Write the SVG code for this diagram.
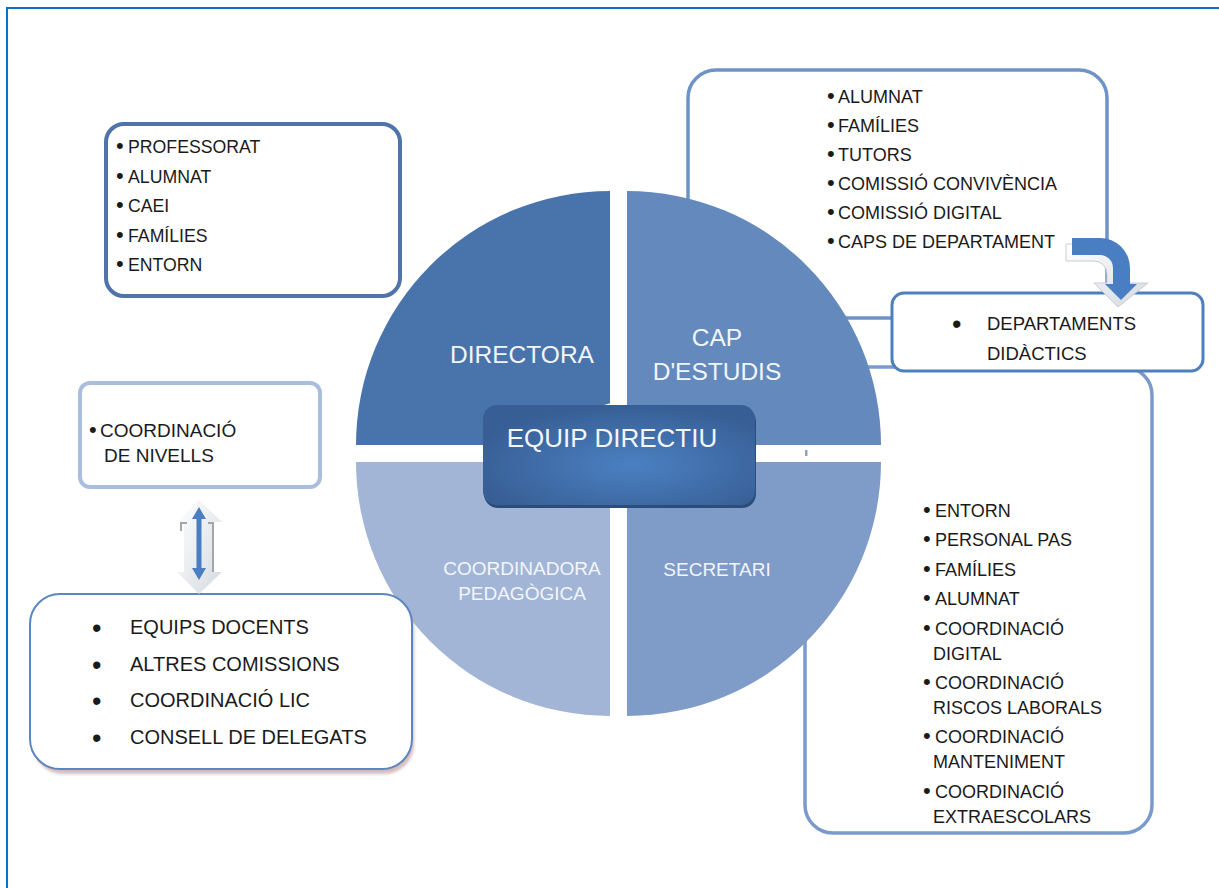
<svg xmlns="http://www.w3.org/2000/svg" width="1219" height="888" viewBox="0 0 1219 888">
  <defs>
    <style>
      text { font-family: "Liberation Sans", Arial, sans-serif; fill: #1a1a1a; }
      .t18 { font-size: 18px; }
      .b { font-size: 22px; }
      .bb { font-size: 27px; }
      .q { fill: #F2F5FA; text-anchor: middle; }
      .box { fill: #ffffff; }
    </style>
    <radialGradient id="eqGrad" cx="0.55" cy="0.6" r="0.6">
      <stop offset="0" stop-color="#4C80C2"/>
      <stop offset="1" stop-color="#375F95"/>
    </radialGradient>
    <linearGradient id="greyGrad" x1="0" y1="0" x2="1" y2="1">
      <stop offset="0" stop-color="#FFFFFF"/>
      <stop offset="1" stop-color="#D5D9DF"/>
    </linearGradient>
    <filter id="blur" x="-10%" y="-10%" width="120%" height="130%">
      <feGaussianBlur stdDeviation="1.5"/>
    </filter>
  </defs>

  <!-- frame -->
  <rect x="7" y="8" width="1240" height="910" fill="#ffffff" stroke="#0B72C4" stroke-width="2"/>

  <!-- boxes behind circle -->
  <g id="cap-estudis-list">
    <rect x="688" y="70" width="419" height="248" rx="28" class="box" stroke="#6E93C6" stroke-width="3.5"/>
    <g class="t18">
      <text><tspan class="b" x="827" y="103">•</tspan><tspan x="838" y="103">ALUMNAT</tspan></text>
      <text><tspan class="b" x="827" y="132">•</tspan><tspan x="838" y="132">FAMÍLIES</tspan></text>
      <text><tspan class="b" x="827" y="161">•</tspan><tspan x="838" y="161">TUTORS</tspan></text>
      <text><tspan class="b" x="827" y="190">•</tspan><tspan x="838" y="190">COMISSIÓ CONVIVÈNCIA</tspan></text>
      <text><tspan class="b" x="827" y="219">•</tspan><tspan x="838" y="219">COMISSIÓ DIGITAL</tspan></text>
      <text><tspan class="b" x="827" y="248">•</tspan><tspan x="838" y="248">CAPS DE DEPARTAMENT</tspan></text>
    </g>
  </g>

  <g id="secretari-list">
    <rect x="805" y="367" width="347" height="466" rx="28" class="box" stroke="#7A9ACB" stroke-width="3.5"/>
    <g class="t18">
      <text><tspan class="b" x="923" y="517">•</tspan><tspan x="935" y="517">ENTORN</tspan></text>
      <text><tspan class="b" x="923" y="546">•</tspan><tspan x="935" y="546">PERSONAL PAS</tspan></text>
      <text><tspan class="b" x="923" y="576">•</tspan><tspan x="935" y="576">FAMÍLIES</tspan></text>
      <text><tspan class="b" x="923" y="605">•</tspan><tspan x="935" y="605">ALUMNAT</tspan></text>
      <text><tspan class="b" x="923" y="635">•</tspan><tspan x="935" y="635">COORDINACIÓ</tspan></text>
      <text x="933" y="660">DIGITAL</text>
      <text><tspan class="b" x="923" y="689">•</tspan><tspan x="935" y="689">COORDINACIÓ</tspan></text>
      <text x="933" y="714">RISCOS LABORALS</text>
      <text><tspan class="b" x="923" y="743">•</tspan><tspan x="935" y="743">COORDINACIÓ</tspan></text>
      <text x="933" y="768">MANTENIMENT</text>
      <text><tspan class="b" x="923" y="798">•</tspan><tspan x="935" y="798">COORDINACIÓ</tspan></text>
      <text x="933" y="823">EXTRAESCOLARS</text>
    </g>
  </g>
  <rect x="802" y="445" width="7" height="17" fill="#ffffff"/>

  <!-- circle quadrants -->
  <g id="directora">
    <path d="M610,445 L356,445 A254,254 0 0 1 610,191 Z" fill="#4874AB"/>
    <text class="q" x="522" y="363" font-size="24.5">DIRECTORA</text>
  </g>
  <g id="cap-estudis">
    <path d="M627,445 L627,191 A254,254 0 0 1 881,445 Z" fill="#6489BD"/>
    <text class="q" x="717" y="346" font-size="24.5">CAP</text>
    <text class="q" x="717" y="380" font-size="24.5">D'ESTUDIS</text>
  </g>
  <g id="secretari">
    <path d="M627,462 L881,462 A254,254 0 0 1 627,716 Z" fill="#7F9BC8"/>
    <text class="q" x="717" y="576" font-size="19">SECRETARI</text>
  </g>
  <g id="coordinadora">
    <path d="M610,462 L610,716 A254,254 0 0 1 356,462 Z" fill="#A2B5D6"/>
    <text class="q" x="522" y="575" font-size="19">COORDINADORA</text>
    <text class="q" x="522" y="600" font-size="19">PEDAGÒGICA</text>
  </g>
  <rect x="805" y="450" width="2.5" height="6" fill="#8EA3C2"/>

  <g id="equip-directiu">
    <path d="M598,408 Q614,398 634,408 Z" fill="#ffffff"/>
    <rect x="484" y="408" width="272" height="100" rx="14" fill="#2C4C79"/>
    <rect x="483" y="405" width="272" height="100" rx="14" fill="url(#eqGrad)"/>
    <text x="612" y="447" font-size="26" style="fill:#F3F6FB;text-anchor:middle">EQUIP DIRECTIU</text>
  </g>

  <g id="departaments">
    <rect x="892" y="293" width="311" height="78" rx="12" class="box" stroke="#4F80BE" stroke-width="3"/>
    <text class="bb" x="952" y="333">•</text>
    <text x="987" y="330" font-size="18.5">DEPARTAMENTS</text>
    <text x="987" y="360" font-size="18.5">DIDÀCTICS</text>
  </g>

  <g id="directora-list">
    <rect x="106" y="124" width="294" height="172" rx="18" class="box" stroke="#4E74A9" stroke-width="4"/>
    <g style="font-size:17.7px">
      <text><tspan class="b" x="116" y="153">•</tspan><tspan x="128" y="153">PROFESSORAT</tspan></text>
      <text><tspan class="b" x="116" y="183">•</tspan><tspan x="128" y="183">ALUMNAT</tspan></text>
      <text><tspan class="b" x="116" y="212">•</tspan><tspan x="128" y="212">CAEI</tspan></text>
      <text><tspan class="b" x="116" y="242">•</tspan><tspan x="128" y="242">FAMÍLIES</tspan></text>
      <text><tspan class="b" x="116" y="271">•</tspan><tspan x="128" y="271">ENTORN</tspan></text>
    </g>
  </g>

  <g id="coordinacio-nivells">
    <rect x="80" y="383" width="240" height="104" rx="10" class="box" stroke="#A9BEDF" stroke-width="4"/>
    <text font-size="19"><tspan class="b" x="89" y="437">•</tspan><tspan x="100" y="437">COORDINACIÓ</tspan></text>
    <text font-size="19" x="104" y="462">DE NIVELLS</text>
  </g>

  <g id="coordinadora-list">
    <rect x="33" y="598" width="381" height="176" rx="30" fill="#C4A0A0" opacity="0.7" filter="url(#blur)"/>
    <rect x="30" y="594" width="382" height="175" rx="30" class="box" stroke="#5A86C1" stroke-width="2"/>
    <g font-size="20">
      <text><tspan class="bb" x="92" y="637">•</tspan><tspan x="130" y="634">EQUIPS DOCENTS</tspan></text>
      <text><tspan class="bb" x="92" y="674">•</tspan><tspan x="130" y="671">ALTRES COMISSIONS</tspan></text>
      <text><tspan class="bb" x="92" y="710">•</tspan><tspan x="130" y="707">COORDINACIÓ LIC</tspan></text>
      <text><tspan class="bb" x="92" y="747">•</tspan><tspan x="130" y="744">CONSELL DE DELEGATS</tspan></text>
    </g>
  </g>

  <g id="connectors">
    <g id="curved-arrow">
      <path d="M1066,244 H1094 A30,30 0 0 1 1124,274 V283 H1148 L1118,307 L1094,283 H1107 V274 A13,13 0 0 0 1094,261 H1066 Z" fill="url(#greyGrad)" stroke="#C9CDD3" stroke-width="1"/>
      <path d="M1072,238 H1100 A30,30 0 0 1 1130,268 V284 H1137 L1121,300 L1105,284 H1113 V268 A13,13 0 0 0 1100,255 H1072 Z" fill="#4A7EC2"/>
    </g>
    <g id="double-arrow">
      <path d="M199,500 L222,522 H214 V572 H222 L199,594 L177,572 H184 V522 H177 Z" fill="url(#greyGrad)"/>
      <path d="M181,531 V523 H187" fill="none" stroke="#A2A7AE" stroke-width="2"/>
      <path d="M208,523 H213 V572" fill="none" stroke="#A2A7AE" stroke-width="2"/>
      <path d="M199,507 L206,519 H201.5 V568 H206 L199,580 L192,568 H196.5 V519 H192 Z" fill="#4A7EC2"/>
    </g>
  </g>
</svg>
